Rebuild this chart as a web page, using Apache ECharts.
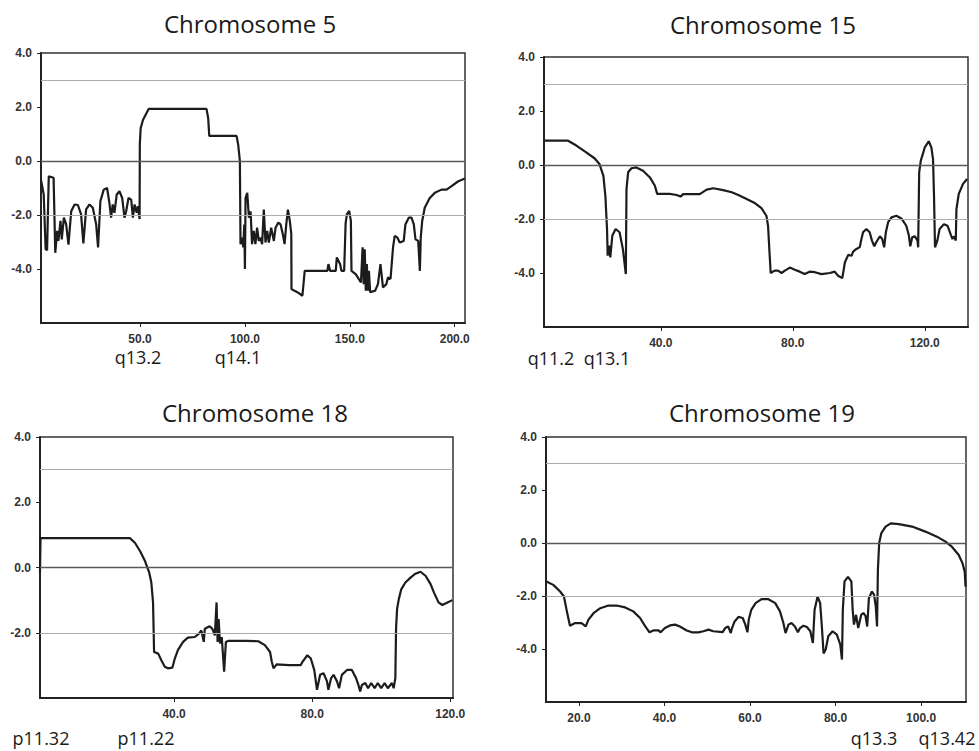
<!DOCTYPE html>
<html>
<head>
<meta charset="utf-8">
<title>Chromosome copy-number profiles</title>
<script src="https://cdn.jsdelivr.net/npm/echarts@6.0.0/dist/echarts.min.js"></script>
<style>
html, body { margin: 0; padding: 0; background: #fff; }
#main { width: 979px; height: 751px; }
</style>
</head>
<body>
<div id="main"></div>
<script>
// positions (x) and log-ratio values (y)

var chr5Pos = [2.8,4.1,5.0,5.7,6.5,8.8,9.6,10.5,11.1,12.1,12.7,13.7,14.8,15.9,17.2,18.8,20.4,21.9,23.0,24.3,
  25.9,27.5,29.1,30.0,31.1,32.7,34.3,35.4,36.2,37.0,37.8,38.9,40.2,41.5,42.6,43.4,44.5,45.8,46.6,47.4,
  48.4,49.0,49.8,49.9,50.3,51.4,54.1,81.7,82.5,83.0,96.0,96.8,97.6,97.9,98.7,99.2,99.7,100.0,100.3,101.1,
  101.9,102.7,103.4,104.2,105.0,105.8,106.6,107.4,108.2,109.0,109.8,110.6,111.4,112.5,113.8,114.6,115.9,117.0,118.1,118.9,
  119.7,120.5,121.4,122.1,122.2,123.4,125.0,127.4,128.5,139.3,139.8,140.6,143.3,143.8,145.4,146.0,147.3,148.0,148.6,149.7,
  150.5,150.8,152.9,155.3,156.1,156.6,157.1,157.6,158.1,158.6,159.1,159.7,162.1,163.4,164.6,165.8,167.4,168.2,169.4,170.6,
  171.4,172.7,173.8,175.7,176.5,178.1,179.4,180.5,181.3,182.6,183.4,183.8,184.5,185.7,188.1,190.5,193.7,196.1,198.5,201.7,
  204.9];
var chr5Val = [-0.7,-1.24,-3.27,-3.3,-0.57,-0.62,-3.4,-2.59,-2.96,-2.22,-2.9,-2.1,-2.35,-3.1,-1.86,-1.61,-1.63,-1.98,-3.05,-1.79,
  -1.61,-1.73,-2.35,-3.2,-1.49,-1.06,-1.0,-1.55,-2.1,-1.61,-1.92,-1.24,-1.12,-1.37,-2.1,-1.86,-1.37,-1.43,-2.1,-1.61,
  -1.92,-1.67,-2.15,0.6,1.21,1.52,1.93,1.93,1.58,0.93,0.93,0.6,0,-3.08,-2.84,-3.2,-2.35,-4.0,-1.37,-1.18,
  -2.1,-1.86,-3.08,-2.59,-3.08,-2.47,-2.96,-2.84,-3.08,-1.8,-3.02,-2.59,-3.02,-2.47,-2.96,-2.47,-2.28,-2.35,-2.72,-3.08,
  -2.35,-1.8,-2.22,-2.7,-4.74,-4.8,-4.86,-4.99,-4.07,-4.07,-3.82,-4.07,-4.07,-3.57,-3.82,-4.07,-4.07,-2.3,-1.98,-1.85,
  -2.22,-4.07,-4.2,-4.5,-3.2,-4.56,-3.27,-4.8,-3.82,-4.8,-4.07,-4.86,-4.8,-4.56,-3.82,-4.68,-4.56,-4.31,-4.37,-3.2,
  -2.77,-2.84,-3.02,-2.96,-2.35,-2.1,-2.1,-2.35,-2.9,-2.96,-4.07,-2.84,-2.22,-1.73,-1.37,-1.18,-1.06,-1.06,-0.93,-0.75,
  -0.65];

var chr15Pos = [4.6,11.9,14.4,17.4,19.9,21.4,22.6,23.2,23.7,23.9,24.3,24.7,25.3,26.3,27.5,28.5,29.4,29.6,30.1,31.1,
  32.6,34.6,36.7,38.2,38.9,42.7,44.8,46.0,46.8,51.8,53.9,55.9,58.9,61.5,63.5,66.0,68.6,70.5,72.0,72.5,
  73.0,73.3,74.5,75.5,76.6,77.6,79.1,80.6,82.1,83.6,85.1,86.7,88.7,91.2,92.7,93.7,95.0,95.8,96.8,97.8,
  98.3,99.3,100.3,100.8,101.3,102.3,103.3,104.0,104.7,105.3,106.4,107.1,107.7,108.2,108.9,109.9,111.4,112.9,114.4,115.2,
  115.6,116.2,117.0,117.8,118.0,118.3,118.8,120.0,121.2,122.0,122.5,122.8,123.1,123.8,124.5,125.8,126.9,127.9,128.4,128.9,
  129.4,129.6,130.3,131.6,132.8];
var chr15Val = [0.9,0.9,0.72,0.47,0.25,0.04,-0.4,-1.14,-2.37,-3.36,-2.99,-3.42,-2.62,-2.37,-2.49,-3.11,-4.04,-0.89,-0.27,-0.12,
  -0.09,-0.21,-0.46,-0.77,-1.07,-1.07,-1.11,-1.17,-1.08,-1.08,-0.91,-0.86,-0.93,-1.01,-1.11,-1.26,-1.42,-1.6,-1.88,-2.25,
  -3.36,-4.0,-3.91,-3.91,-4.0,-3.91,-3.8,-3.88,-3.95,-4.04,-3.95,-3.97,-4.04,-4.0,-3.95,-4.1,-4.19,-3.6,-3.33,-3.36,
  -3.21,-3.11,-3.04,-2.74,-2.49,-2.37,-2.49,-2.8,-3.01,-2.86,-2.64,-2.74,-3.05,-2.49,-2.12,-1.94,-1.88,-1.98,-2.25,-2.62,
  -3.01,-2.68,-2.64,-2.8,-3.05,-0.27,0.16,0.65,0.88,0.65,0.22,-1.14,-3.05,-2.8,-2.37,-2.19,-2.25,-2.59,-2.74,-2.64,
  -2.8,-1.63,-1.07,-0.7,-0.52];

var chr18Pos = [1.15,1.3,27.2,28.7,30.2,31.6,32.8,33.4,33.9,34.2,35.4,36.3,37.3,38.2,39.5,40.2,41.1,42.6,44.0,46.0,
  47.2,47.9,48.6,48.9,50.3,51.1,51.8,52.3,52.6,52.9,53.3,53.8,54.5,55.0,55.6,60.6,64.4,66.3,67.8,68.3,
  68.8,69.7,73.3,76.7,77.2,78.6,79.6,80.6,81.4,82.3,83.3,84.3,84.7,85.5,86.2,87.2,87.8,88.6,90.1,91.5,
  92.7,93.4,93.9,94.4,95.4,96.2,97.1,98.1,99.0,100.0,101.0,101.9,103.1,103.6,104.1,104.3,104.6,105.1,105.8,107.0,
  108.5,109.9,111.4,112.9,114.3,115.3,116.6,117.7,119.2,120.6];
var chr18Val = [-0.15,0.9,0.9,0.75,0.49,0.19,-0.16,-0.46,-1.07,-2.59,-2.64,-2.84,-3.04,-3.09,-3.07,-2.79,-2.53,-2.28,-2.15,-2.13,
  -2.03,-1.93,-2.28,-1.88,-1.8,-1.88,-2.08,-1.07,-2.28,-1.58,-2.33,-2.13,-3.19,-2.28,-2.25,-2.25,-2.26,-2.38,-2.59,-2.89,
  -3.09,-2.97,-2.99,-2.99,-2.89,-2.69,-2.79,-3.14,-3.75,-3.29,-3.24,-3.49,-3.75,-3.39,-3.29,-3.49,-3.7,-3.29,-3.14,-3.14,
  -3.39,-3.6,-3.8,-3.6,-3.54,-3.7,-3.54,-3.7,-3.54,-3.7,-3.54,-3.7,-3.54,-3.7,-3.39,-1.88,-1.27,-0.97,-0.67,-0.46,
  -0.31,-0.19,-0.13,-0.26,-0.51,-0.77,-1.07,-1.15,-1.07,-1.0];

var chr19Pos = [12.4,14.0,15.6,16.5,17.1,17.9,19.1,20.6,21.6,22.2,23.4,25.0,26.9,28.8,30.8,32.7,34.3,35.4,36.5,37.4,
  38.6,39.1,40.1,41.3,42.5,43.6,45.2,46.4,47.9,49.1,50.3,51.4,53.6,54.2,54.9,55.5,55.8,56.4,57.3,58.3,
  58.9,59.4,59.7,60.3,61.3,62.7,64.3,65.9,67.0,67.8,68.3,69.0,69.7,70.5,71.2,71.7,72.5,73.3,74.1,74.7,
  75.1,75.8,76.4,76.8,77.2,77.7,78.3,79.3,80.3,81.1,81.5,81.7,82.1,82.9,83.7,84.0,84.3,84.8,85.3,86.0,
  86.5,87.0,87.4,87.8,88.5,89.0,89.4,89.7,89.9,90.2,90.7,91.7,92.9,94.8,97.9,101.0,103.7,105.7,107.2,108.8,
  109.7,110.2,110.4];
var chr19Val = [-1.45,-1.58,-1.83,-2.02,-2.52,-3.12,-3.02,-3.02,-3.15,-2.9,-2.65,-2.46,-2.36,-2.36,-2.43,-2.58,-2.83,-3.12,-3.37,-3.3,
  -3.3,-3.37,-3.21,-3.11,-3.08,-3.15,-3.3,-3.37,-3.37,-3.33,-3.27,-3.33,-3.36,-3.21,-3.15,-3.4,-3.21,-2.96,-2.79,-2.83,
  -3.08,-3.37,-2.9,-2.52,-2.27,-2.12,-2.12,-2.27,-2.58,-3.02,-3.4,-3.08,-3.02,-3.15,-3.37,-3.21,-3.12,-3.17,-3.33,-3.77,
  -2.52,-2.02,-2.27,-3.15,-4.17,-4.02,-3.52,-3.33,-3.46,-3.83,-4.4,-2.52,-1.45,-1.28,-1.45,-2.52,-3.08,-2.71,-3.21,-2.71,
  -2.64,-2.75,-3.15,-2.08,-1.83,-1.95,-2.39,-3.15,-1.02,0.0,0.37,0.62,0.74,0.71,0.62,0.43,0.24,0.05,-0.14,-0.45,
  -0.77,-1.08,-1.65];

var chr5Ticks = [50, 100, 150, 200];
var chr15Ticks = [40, 80, 120];
var chr18Ticks = [40, 80, 120];
var chr19Ticks = [20, 40, 60, 80, 100];
var yTicks = [-4, -2, 0, 2, 4];
var yTicks18 = [-2, 0, 2, 4];
var refLines = [3, 0, -2];

var chr5Bands = ['q13.2', 'q14.1'];
var chr15Bands = ['q11.2', 'q13.1'];
var chr18Bands = ['p11.32', 'p11.22'];
var chr19Bands = ['q13.3', 'q13.42'];

var myChart = echarts.init(document.getElementById('main'), null, {renderer: 'svg'});

// layout of the four panels (pixels)
var panels = [
  {title: 'Chromosome 5', pos: chr5Pos, val: chr5Val, ticks: chr5Ticks, yt: yTicks,
   xMin: 2.8, xMax: 204.9, yMin: -6, box: [41, 53, 424, 270], tx: 250, ty: 23,
   bands: chr5Bands, bx: [138, 238], by: 357},
  {title: 'Chromosome 15', pos: chr15Pos, val: chr15Val, ticks: chr15Ticks, yt: yTicks,
   xMin: 4.6, xMax: 133.1, yMin: -6, box: [544, 57, 424, 270], tx: 763, ty: 24,
   bands: chr15Bands, bx: [551, 607], by: 358},
  {title: 'Chromosome 18', pos: chr18Pos, val: chr18Val, ticks: chr18Ticks, yt: yTicks18,
   xMin: 1.15, xMax: 120.8, yMin: -4, box: [40, 437, 413, 261], tx: 255, ty: 412,
   bands: chr18Bands, bx: [41, 146], by: 738},
  {title: 'Chromosome 19', pos: chr19Pos, val: chr19Val, ticks: chr19Ticks, yt: yTicks,
   xMin: 12.3, xMax: 110.5, yMin: -6, box: [546, 437, 420, 265], tx: 762, ty: 412,
   bands: chr19Bands, bx: [874, 947], by: 738}
];

var labelFont = {fontFamily: 'Liberation Sans', fontSize: 12, fontWeight: 'bold', color: '#333'};

option = {
  backgroundColor: '#fff',
  animation: false,
  grid: [], xAxis: [], yAxis: [], series: [], graphic: []
};

for (var i = 0; i < panels.length; i++) {
  var p = panels[i];
  option.grid.push({
    left: p.box[0], top: p.box[1], width: p.box[2], height: p.box[3],
    show: true, borderColor: '#333', borderWidth: 1.5, backgroundColor: '#fff'
  });
  option.xAxis.push({
    type: 'value', gridIndex: i, min: p.xMin, max: p.xMax,
    axisLine: {show: true, onZero: false, lineStyle: {color: '#222', width: 2}},
    axisTick: {show: true, length: 4, customValues: p.ticks, lineStyle: {color: '#222'}},
    axisLabel: Object.assign({margin: 10, customValues: p.ticks,
      formatter: function (v) { return v.toFixed(1); }}, labelFont),
    splitLine: {show: false}
  });
  option.yAxis.push({
    type: 'value', gridIndex: i, min: p.yMin, max: 4,
    axisLine: {show: true, onZero: false, lineStyle: {color: '#222', width: 2}},
    axisTick: {show: true, length: 4, customValues: p.yt, lineStyle: {color: '#222'}},
    axisLabel: Object.assign({margin: 9, customValues: p.yt,
      formatter: function (v) { return v.toFixed(1); }}, labelFont),
    splitLine: {show: false}
  });

  var pts = [];
  for (var k = 0; k < p.pos.length; k++) pts.push([p.pos[k], p.val[k]]);

  option.series.push({
    name: p.title, type: 'line', xAxisIndex: i, yAxisIndex: i,
    data: pts, showSymbol: false, symbol: 'none', z: 3,
    lineStyle: {color: '#1c1c1c', width: 2.2},
    markLine: {
      silent: true, symbol: 'none', label: {show: false},
      data: refLines.map(function (r) {
        return {yAxis: r, lineStyle: {type: 'solid', width: r === 0 ? 1.3 : 1,
          color: r === 0 ? '#5a5a5a' : '#ababab'}};
      })
    }
  });

  option.graphic.push({
    type: 'text', x: p.tx, y: p.ty,
    style: {text: p.title, fontFamily: 'Open Sans', fontSize: 24, fill: '#1a1a1a',
      align: 'center', verticalAlign: 'middle'}
  });
  for (var b = 0; b < p.bands.length; b++) {
    option.graphic.push({
      type: 'text', x: p.bx[b], y: p.by,
      style: {text: p.bands[b], fontFamily: 'Open Sans', fontSize: 18, fill: '#1a1a1a',
        align: 'center', verticalAlign: 'middle'}
    });
  }
}

myChart.setOption(option);
</script>
</body>
</html>
